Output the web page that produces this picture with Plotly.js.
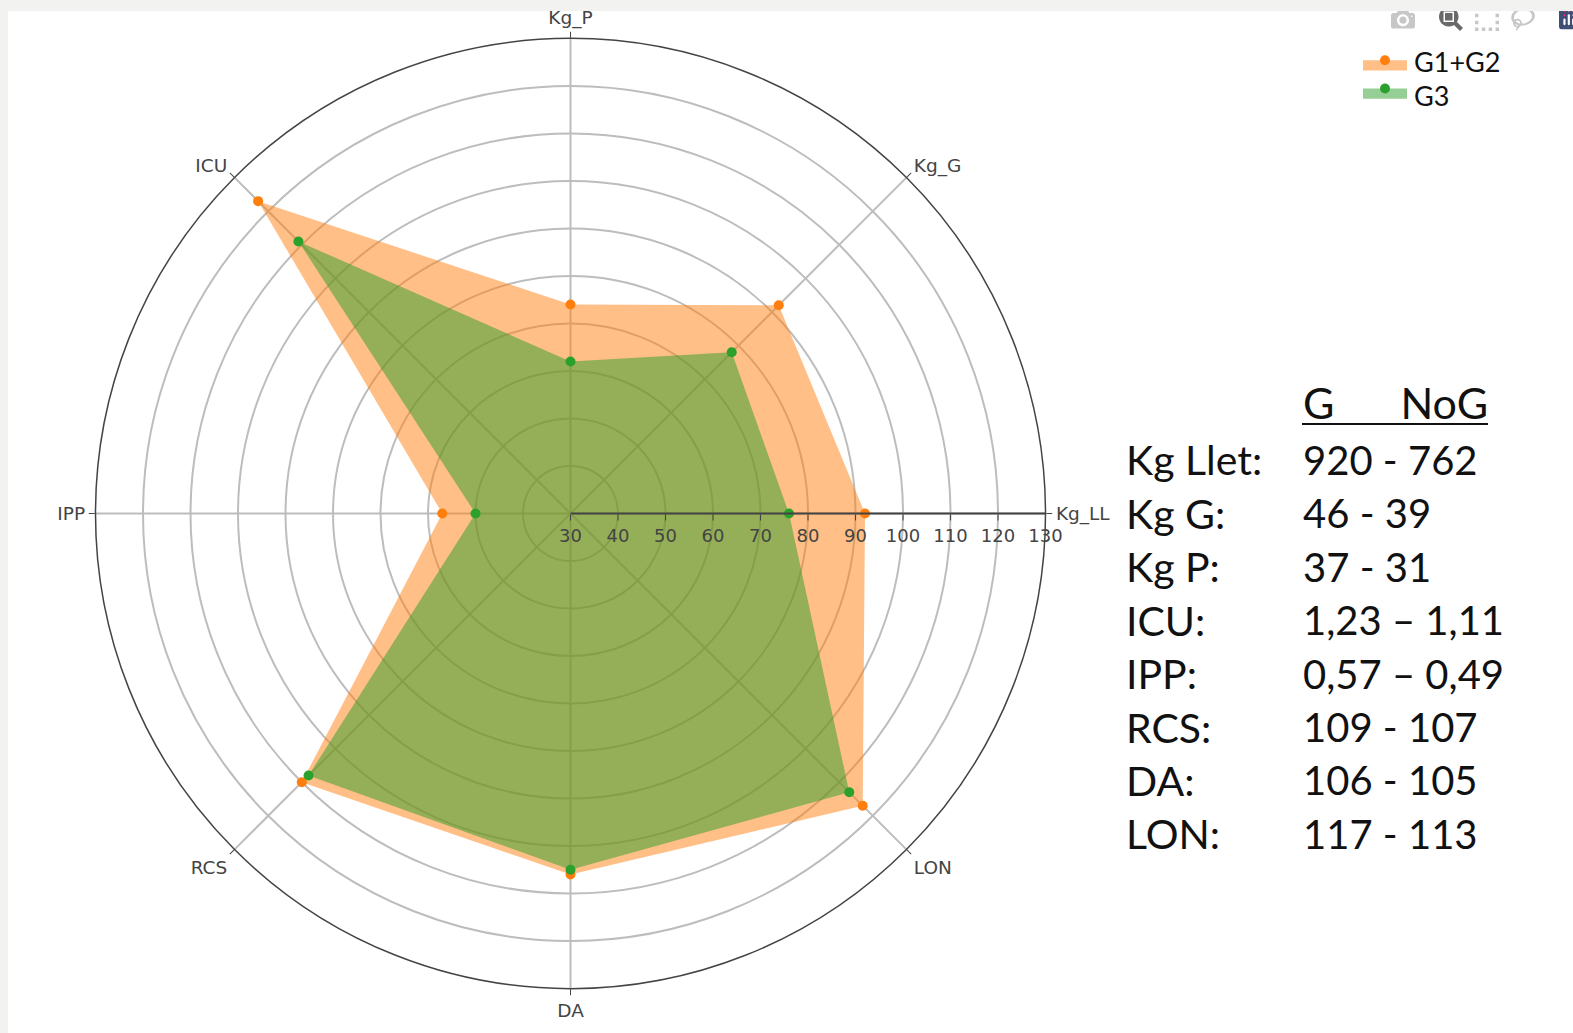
<!DOCTYPE html>
<html><head><meta charset="utf-8">
<script src="https://cdn.plot.ly/plotly-3.0.1.min.js"></script>
<style>
html,body{margin:0;padding:0;background:#f2f2f0;width:1573px;height:1033px;overflow:hidden}
#plot{position:absolute;left:8px;top:11px;width:1565px;height:1022px;overflow:hidden;background:#fff}
.js-plotly-plot .plotly .modebar{top:-10px !important;right:-16px !important;transform:scale(1.5);transform-origin:top right}
.js-plotly-plot .plotly .modebar-btn--logo rect{fill:#3f4f75 !important}
.js-plotly-plot .legend .scrollbox{clip-path:none !important}
.js-plotly-plot .legend .legendtext{font-size:27px !important}
.js-plotly-plot .legend .traces:nth-child(1) .legendtext{transform:translate(2px,4px)}
.js-plotly-plot .legend .traces:nth-child(2) .legendtext{transform:translate(2px,10px)}
.js-plotly-plot .legend .legendfill path{transform:scaleY(1.7)}
</style></head><body><div id="plot"></div>
<script>
const categories=['Kg_LL','Kg_G','Kg_P','ICU','IPP','RCS','DA','LON'];
const angles=[0,45,90,135,180,225,270,315];
const g1g2=[92,92,74,123,57,110,106,117];
const g3=[76,78,62,111,50,108,105,113];
const radialTicks=[30,40,50,60,70,80,90,100,110,120,130];
const tableHeader='G      NoG';
const tableLabels=['Kg Llet:','Kg G:','Kg P:','ICU:','IPP:','RCS:','DA:','LON:'];
const tableValues=['920 - 762','46 - 39','37 - 31','1,23 – 1,11','0,57 – 0,49','109 - 107','106 - 105','117 - 113'];

const W=1565,H=1022,cx=562.5,cy=502.5,R=475;
const px=x=>(x-8)/W, py=y=>1-(y-11)/H;
const trace=(name,r,color)=>({type:'scatterpolar',name,r,theta:angles,mode:'markers',fill:'toself',
  marker:{color,size:10},line:{width:0},hoverinfo:'r+theta'});
const txt=(x,y,text,size)=>({xref:'paper',yref:'paper',x:px(x),y:py(y),xanchor:'left',yanchor:'middle',text,showarrow:false,
  font:{family:'Lato',size,color:'#111'}});
const rowY=i=>460+i*53.4;
const annotations=[txt(1301,402,tableHeader.replace(/ /g,'\u00a0'),43)];
tableLabels.forEach((t,i)=>annotations.push(txt(1124,rowY(i),t,41)));
tableValues.forEach((t,i)=>annotations.push(txt(1301,rowY(i),t,40)));
const axisFont={family:'"DejaVu Sans",verdana,sans-serif',size:18,color:'#444'};
const angularFont={family:'"DejaVu Sans",verdana,sans-serif',size:18.5,color:'#444'};
Plotly.newPlot('plot',[trace('G1+G2',g1g2,'#ff7f0e'),trace('G3',g3,'#2ca02c')],{
  width:W,height:H,margin:{l:0,r:0,t:0,b:0},paper_bgcolor:'#fff',dragmode:'zoom',
  font:axisFont,
  polar:{domain:{x:[(cx-R)/W,(cx+R)/W],y:[1-(cy+R)/H,1-(cy-R)/H]},bgcolor:'#fff',
    radialaxis:{range:[30,130],tickvals:radialTicks,ticktext:radialTicks.map(String),angle:0,tickangle:0,side:'clockwise',
      showline:true,linecolor:'#444',linewidth:2,ticks:'outside',ticklen:6,tickcolor:'#444',gridcolor:'#bdbdbd',gridwidth:1.5,
      tickfont:axisFont},
    angularaxis:{tickmode:'array',tickvals:angles,ticktext:categories,rotation:0,direction:'counterclockwise',
      showline:true,linecolor:'#444',linewidth:1.5,ticks:'outside',ticklen:6,tickcolor:'#444',gridcolor:'#bdbdbd',gridwidth:1.5,
      tickfont:angularFont}},
  legend:{x:px(1358),y:py(41),xanchor:'left',yanchor:'top',itemwidth:44,bgcolor:'rgba(0,0,0,0)',
    font:{family:'Lato',size:19.5,color:'#111'}},
  modebar:{color:'rgba(68,68,68,0.3)',activecolor:'rgba(68,68,68,0.8)',bgcolor:'rgba(0,0,0,0)'},
  annotations,
  shapes:[{type:'line',xref:'paper',yref:'paper',x0:px(1302),x1:px(1488),y0:py(424),y1:py(424),line:{color:'#111',width:2}}]
},{displayModeBar:true,displaylogo:true,modeBarButtons:[['toImage'],['zoom2d','select2d','lasso2d']]});
</script></body></html>
